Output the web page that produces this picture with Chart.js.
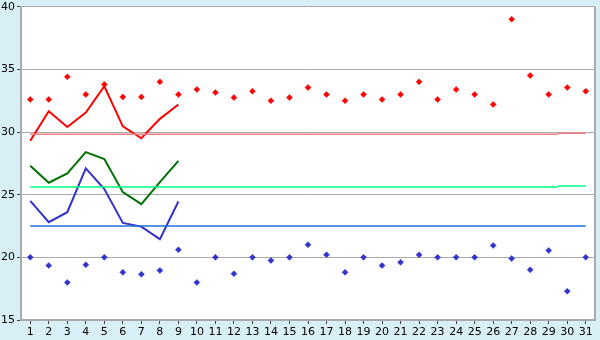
<!DOCTYPE html>
<html lang="en">
<head>
    <meta charset="UTF-8">
    <title>Daily values</title>
    <style>
        * { margin: 0; padding: 0; box-sizing: border-box; }
        body { background-color: #d9eff6; width: 600px; height: 340px; overflow: hidden; }
        #wrap { position: relative; width: 600px; height: 340px; }
    </style>
</head>
<body>
    <div id="wrap"><canvas id="chart" width="600" height="340"></canvas></div>

    <script src="https://cdn.jsdelivr.net/npm/chart.js@4.4.1/dist/chart.umd.min.js"></script>
    <script>
        // day numbers along the x axis
        const days = [1, 2, 3, 4, 5, 6, 7, 8, 9, 10, 11, 12, 13, 14, 15, 16, 17, 18, 19, 20, 21, 22, 23, 24, 25, 26, 27, 28, 29, 30, 31];
        const yTicks = [15, 20, 25, 30, 35, 40];

        // single points per day
        const redPoints = [32.6, 32.6, 34.4, 33.0, 33.8, 32.8, 32.8, 34.0, 33.0, 33.4, 33.15, 32.75, 33.25, 32.5, 32.75, 33.55,
                           33.0, 32.5, 33.0, 32.6, 33.0, 34.0, 32.6, 33.4, 33.0, 32.2, 39.0, 34.5, 33.0, 33.55, 33.25];
        const bluePoints = [20.0, 19.35, 18.0, 19.4, 20.0, 18.8, 18.65, 18.95, 20.6, 18.0, 20.0, 18.7, 20.0, 19.75, 20.0, 21.0,
                            20.2, 18.8, 20.0, 19.35, 19.6, 20.2, 20.0, 20.0, 20.0, 20.95, 19.9, 19.0, 20.55, 17.3, 20.0];

        // lines for the first nine days
        const lineDays = [1, 2, 3, 4, 5, 6, 7, 8, 9];
        const redLine = [29.3, 31.65, 30.4, 31.55, 33.65, 30.45, 29.5, 31.05, 32.2];
        const greenLine = [27.3, 25.95, 26.7, 28.4, 27.85, 25.2, 24.25, 26.0, 27.7];
        const blueLine = [24.5, 22.8, 23.6, 27.1, 25.45, 22.75, 22.45, 21.45, 24.45];

        // reference levels: [startDay, endDay, value]
        const redLevels = [[1, 29.5, 29.82], [29.5, 31, 29.9]];
        const greenLevels = [[1, 29.5, 25.62], [29.5, 31, 25.7]];
        const blueLevels = [[1, 31, 22.5]];

        const toXY = (xs, ys) => xs.map((x, i) => ({ x: x, y: ys[i] }));

        function levelSets(levels, color) {
            return levels.map(l => ({
                data: [{ x: l[0], y: l[2] }, { x: l[1], y: l[2] }],
                showLine: true, borderColor: color, borderWidth: 1.5, pointRadius: 0, fill: false
            }));
        }

        function lineSet(ys, color) {
            return { data: toXY(lineDays, ys), showLine: true, borderColor: color, borderWidth: 2, pointRadius: 0, tension: 0, fill: false };
        }

        function pointSet(ys, color) {
            return { data: toXY(days, ys), showLine: false, pointStyle: 'rectRot', pointRadius: 3,
                     backgroundColor: color, borderColor: color, borderWidth: 0.5 };
        }

        const plotBg = {
            id: 'plotBg',
            beforeDraw(chart) {
                const { ctx, chartArea: a } = chart;
                ctx.save();
                ctx.fillStyle = '#d9eff6';
                ctx.fillRect(0, 0, chart.width, chart.height);
                ctx.fillStyle = '#ffffff';
                ctx.fillRect(a.left, a.top, a.right - a.left, a.bottom - a.top);
                ctx.restore();
            },
            afterDatasetsDraw(chart) {
                const { ctx, chartArea: a } = chart;
                ctx.save();
                ctx.strokeStyle = '#aaaaaa';
                ctx.lineWidth = 2;
                ctx.beginPath();
                ctx.moveTo(a.right, a.top);
                ctx.lineTo(a.right, a.bottom);
                ctx.stroke();
                ctx.restore();
            }
        };

        new Chart(document.getElementById('chart'), {
            type: 'scatter',
            data: {
                datasets: [
                    ...levelSets(redLevels, '#f08080'),
                    ...levelSets(greenLevels, '#00ff7f'),
                    ...levelSets(blueLevels, '#1e6fd9'),
                    lineSet(redLine, '#ff0000'),
                    lineSet(greenLine, '#007000'),
                    lineSet(blueLine, '#3333cc'),
                    pointSet(redPoints, '#ff0000'),
                    pointSet(bluePoints, '#3333cc')
                ]
            },
            options: {
                responsive: false,
                animation: false,
                layout: { padding: { top: 0, right: 5, left: 0, bottom: 0 } },
                plugins: { legend: { display: false }, tooltip: { enabled: false } },
                scales: {
                    x: {
                        type: 'linear', min: 0.5, max: 31.5,
                        afterBuildTicks: s => { s.ticks = days.map(v => ({ value: v })); },
                        afterFit: s => { s.height = 20; },
                        grid: { drawOnChartArea: false, tickLength: 4, color: '#444', tickColor: '#444' },
                        border: { color: '#aaaaaa', width: 2 },
                        ticks: { color: '#000', font: { family: 'DejaVu Sans', size: 11 }, padding: 2, maxRotation: 0, autoSkip: false }
                    },
                    y: {
                        min: 15, max: 40,
                        afterBuildTicks: s => { s.ticks = yTicks.map(v => ({ value: v })); },
                        afterFit: s => { s.width = 21; },
                        grid: { color: '#aaaaaa', lineWidth: 1, tickLength: 4, tickColor: '#444' },
                        border: { color: '#aaaaaa', width: 2 },
                        ticks: { color: '#000', font: { family: 'DejaVu Sans', size: 11, lineHeight: 0.85 }, padding: 2 }
                    }
                }
            },
            plugins: [plotBg]
        });
    </script>
</body>
</html>
